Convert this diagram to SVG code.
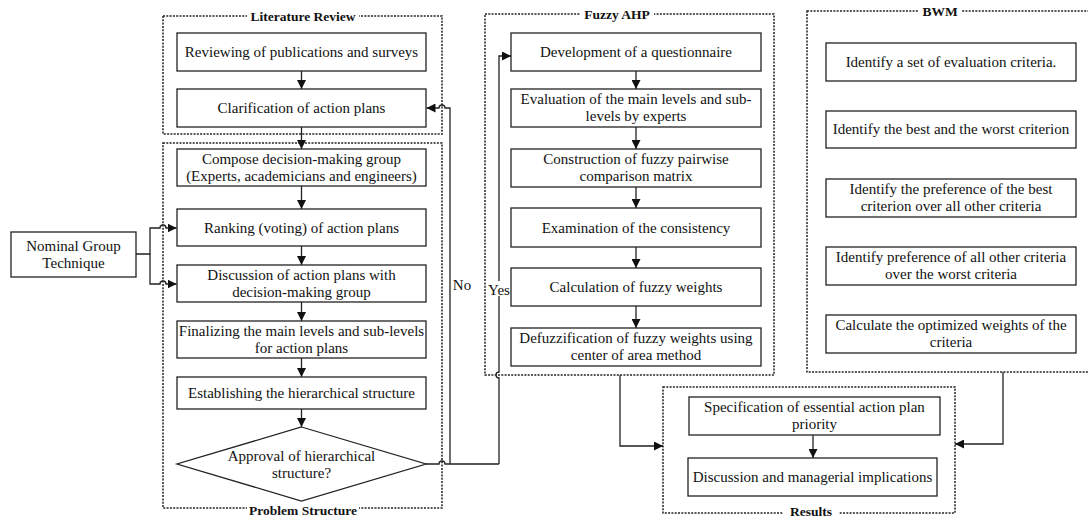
<svg xmlns="http://www.w3.org/2000/svg" width="1088" height="518" viewBox="0 0 1088 518">
<defs>
<style>
.box{fill:#fff;stroke:#222;stroke-width:1.3}
.cont{fill:none;stroke:#222;stroke-width:1.5;stroke-dasharray:2 1.3}
.ln{fill:none;stroke:#222;stroke-width:1.3}
.t{font-family:"Liberation Serif","Times New Roman",serif;font-size:15px;fill:#111;text-anchor:middle}
.lbl{font-family:"Liberation Serif","Times New Roman",serif;font-size:13.5px;font-weight:bold;fill:#111;text-anchor:middle}
.bg{fill:#fff}
</style>
<marker id="ar" markerUnits="userSpaceOnUse" markerWidth="9" markerHeight="9" refX="9" refY="4.5" orient="auto">
<path d="M0,0 L9,4.5 L0,9 z" fill="#111"/>
</marker>
</defs>

<g id="containers">
<g id="c-literature">
<rect class="cont" x="163" y="16" width="279" height="118"/>
<rect class="bg" x="247" y="8" width="112" height="14"/>
<text class="lbl" x="303" y="20.5">Literature Review</text>
</g>
<g id="c-problem">
<rect class="cont" x="163" y="143" width="279" height="365"/>
<rect class="bg" x="247" y="505" width="112" height="13"/>
<text class="lbl" x="303" y="515">Problem Structure</text>
</g>
<g id="c-fuzzy">
<rect class="cont" x="485" y="14" width="289" height="361"/>
<rect class="bg" x="580" y="6" width="74" height="14"/>
<text class="lbl" x="617" y="18.5">Fuzzy AHP</text>
</g>
<g id="c-bwm">
<rect class="cont" x="807" y="11" width="285" height="361"/>
<rect class="bg" x="919" y="3" width="42" height="14"/>
<text class="lbl" x="940" y="15.5">BWM</text>
</g>
<g id="c-results">
<rect class="cont" x="663" y="387" width="292" height="126"/>
<rect class="bg" x="783" y="508" width="56" height="10"/>
<text class="lbl" x="811" y="515.5">Results</text>
</g>
</g>

<g id="connectors">
<path class="ln" d="M301.5,71 V89" marker-end="url(#ar)"/>
<path class="ln" d="M301.5,127 V149" marker-end="url(#ar)"/>
<path class="ln" d="M301.5,186 V209" marker-end="url(#ar)"/>
<path class="ln" d="M301.5,246 V265" marker-end="url(#ar)"/>
<path class="ln" d="M301.5,302 V321" marker-end="url(#ar)"/>
<path class="ln" d="M301.5,358 V377" marker-end="url(#ar)"/>
<path class="ln" d="M301.5,409 V427" marker-end="url(#ar)"/>
<path class="ln" d="M136,254 H150 V228 H160 A3,3 0 0 1 166,228 H176.5" marker-end="url(#ar)"/>
<path class="ln" d="M150,254 V284 H160 A3,3 0 0 1 166,284 H176.5" marker-end="url(#ar)"/>
<path class="ln" d="M426,464 H439 A3,3 0 0 1 445,464 H499"/>
<path class="ln" d="M450,464 V108 H445 A3,3 0 0 0 439,108 H426.5" marker-end="url(#ar)"/>
<path class="ln" d="M499,464 V378 A3,3 0 0 1 499,372 V56 H511" marker-end="url(#ar)"/>
<path class="ln" d="M636,71 V89" marker-end="url(#ar)"/>
<path class="ln" d="M636,127 V149" marker-end="url(#ar)"/>
<path class="ln" d="M636,187 V208" marker-end="url(#ar)"/>
<path class="ln" d="M636,247 V268" marker-end="url(#ar)"/>
<path class="ln" d="M636,306 V328" marker-end="url(#ar)"/>
<path class="ln" d="M620,375 V446 H663" marker-end="url(#ar)"/>
<path class="ln" d="M1003,372 V444 H955" marker-end="url(#ar)"/>
<path class="ln" d="M813,435 V458" marker-end="url(#ar)"/>
<text class="t" x="462" y="290">No</text>
<rect class="bg" x="487" y="281" width="24" height="15"/>
<text class="t" x="499" y="295">Yes</text>
</g>

<g id="n-ngt">
<rect class="box" x="11" y="232" width="125" height="45"/>
<text class="t" x="73.5" y="251">Nominal Group</text>
<text class="t" x="73.5" y="268">Technique</text>
</g>
<g id="n-review">
<rect class="box" x="177" y="33" width="249" height="38"/>
<text class="t" x="301.5" y="57">Reviewing of publications and surveys</text>
</g>
<g id="n-clarify">
<rect class="box" x="177" y="89" width="249" height="38"/>
<text class="t" x="301.5" y="113">Clarification of action plans</text>
</g>
<g id="n-compose">
<rect class="box" x="177" y="149" width="249" height="37"/>
<text class="t" x="301.5" y="164">Compose decision-making group</text>
<text class="t" x="301.5" y="181">(Experts, academicians and engineers)</text>
</g>
<g id="n-ranking">
<rect class="box" x="177" y="209" width="249" height="37"/>
<text class="t" x="301.5" y="233">Ranking (voting) of action plans</text>
</g>
<g id="n-discussion">
<rect class="box" x="177" y="265" width="249" height="37"/>
<text class="t" x="301.5" y="280">Discussion of action plans with</text>
<text class="t" x="301.5" y="297">decision-making group</text>
</g>
<g id="n-finalize">
<rect class="box" x="177" y="321" width="249" height="37"/>
<text class="t" x="301.5" y="336">Finalizing the main levels and sub-levels</text>
<text class="t" x="301.5" y="353">for action plans</text>
</g>
<g id="n-establish">
<rect class="box" x="177" y="377" width="249" height="32"/>
<text class="t" x="301.5" y="398">Establishing the hierarchical structure</text>
</g>
<g id="n-approval">
<polygon class="box" points="301.5,427 426,464 301.5,501 177,464"/>
<text class="t" x="301.5" y="461">Approval of hierarchical</text>
<text class="t" x="301.5" y="478">structure?</text>
</g>

<g id="n-question">
<rect class="box" x="511" y="33" width="250" height="38"/>
<text class="t" x="636" y="57">Development of a questionnaire</text>
</g>
<g id="n-evaluation">
<rect class="box" x="511" y="89" width="250" height="38"/>
<text class="t" x="636" y="104">Evaluation of the main levels and sub-</text>
<text class="t" x="636" y="121">levels by experts</text>
</g>
<g id="n-construction">
<rect class="box" x="511" y="149" width="250" height="38"/>
<text class="t" x="636" y="164">Construction of fuzzy pairwise</text>
<text class="t" x="636" y="181">comparison matrix</text>
</g>
<g id="n-consistency">
<rect class="box" x="511" y="208" width="250" height="39"/>
<text class="t" x="636" y="233">Examination of the consistency</text>
</g>
<g id="n-weights">
<rect class="box" x="511" y="268" width="250" height="38"/>
<text class="t" x="636" y="292">Calculation of fuzzy weights</text>
</g>
<g id="n-defuzz">
<rect class="box" x="511" y="328" width="250" height="38"/>
<text class="t" x="636" y="343">Defuzzification of fuzzy weights using</text>
<text class="t" x="636" y="360">center of area method</text>
</g>

<g id="n-bwm1">
<rect class="box" x="826" y="43" width="250" height="38"/>
<text class="t" x="951" y="67">Identify a set of evaluation criteria.</text>
</g>
<g id="n-bwm2">
<rect class="box" x="826" y="111" width="250" height="37"/>
<text class="t" x="951" y="134">Identify the best and the worst criterion</text>
</g>
<g id="n-bwm3">
<rect class="box" x="826" y="179" width="250" height="38"/>
<text class="t" x="951" y="194">Identify the preference of the best</text>
<text class="t" x="951" y="211">criterion over all other criteria</text>
</g>
<g id="n-bwm4">
<rect class="box" x="826" y="247" width="250" height="38"/>
<text class="t" x="951" y="262">Identify preference of all other criteria</text>
<text class="t" x="951" y="279">over the worst criteria</text>
</g>
<g id="n-bwm5">
<rect class="box" x="826" y="315" width="250" height="38"/>
<text class="t" x="951" y="330">Calculate the optimized weights of the</text>
<text class="t" x="951" y="347">criteria</text>
</g>

<g id="n-spec">
<rect class="box" x="689" y="397" width="251" height="38"/>
<text class="t" x="814.5" y="412">Specification of essential action plan</text>
<text class="t" x="814.5" y="429">priority</text>
</g>
<g id="n-managerial">
<rect class="box" x="688" y="458" width="249" height="38"/>
<text class="t" x="812.5" y="482">Discussion and managerial implications</text>
</g>
</svg>
